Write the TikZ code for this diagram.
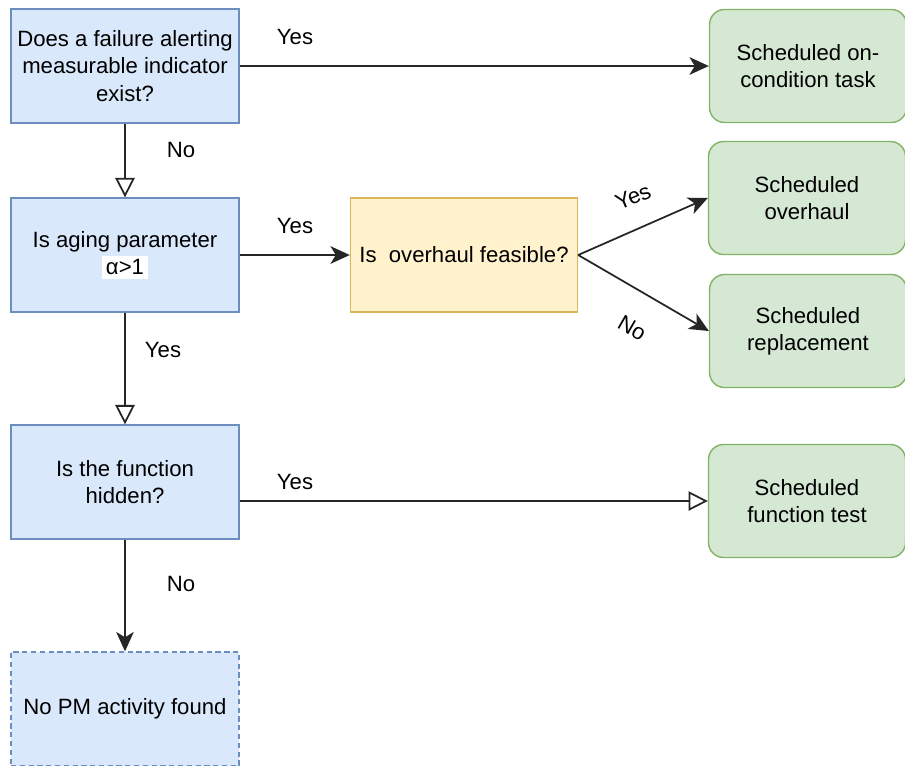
\documentclass[tikz,border=0pt]{standalone}
\usepackage{fontspec}
\setmainfont{Liberation Sans}
\usetikzlibrary{arrows.meta}

\definecolor{qFill}{HTML}{DAE8FC}
\definecolor{qLine}{HTML}{6C8EBF}
\definecolor{yFill}{HTML}{FFF2CC}
\definecolor{yLine}{HTML}{D6B656}
\definecolor{gFill}{HTML}{D5E8D4}
\definecolor{gLine}{HTML}{82B366}

\begin{document}
\begin{tikzpicture}[x=0.02cm, y=-0.02cm, line width=1pt, draw=black!85,
    font=\fontsize{12.6}{15.5}\selectfont]
    \tikzstyle{question}=[draw=qLine, fill=qFill, line width=0.8pt, align=center, minimum width=4.56cm, minimum height=2.28cm, inner sep=0pt]
    \tikzstyle{nothing}=[question, dashed, dash pattern=on 3pt off 2pt]
    \tikzstyle{check}=[draw=yLine, fill=yFill, line width=0.8pt, align=center, minimum width=4.54cm, minimum height=2.28cm, inner sep=0pt]
    \tikzstyle{task}=[draw=gLine, fill=gFill, line width=0.8pt, rounded corners=0.3cm, align=center, minimum width=3.94cm, minimum height=2.26cm, inner sep=0pt]
    \tikzstyle{fwd}=[-{Stealth[length=11pt, width=10pt, inset=3pt]}]
    \tikzstyle{open}=[-{Triangle[open, length=11pt, width=11pt]}]
    \tikzstyle{lbl}=[inner sep=0pt]

    \useasboundingbox (0,0) rectangle (905,765);

    \node[question] (Q-1) at (125, 66)  {Does a failure alerting\\measurable indicator\\exist?};
    \node[question] (Q-2) at (125, 255) {Is aging parameter\\{\setlength{\fboxsep}{2pt}\colorbox{white}{α>1}}};
    \node[question] (Q-3) at (125, 482) {Is the function\\hidden?};
    \node[nothing]  (Q-4) at (125, 709) {No PM activity found};

    \node[check] (F-1) at (464, 255) {Is\ \ overhaul feasible?};

    \node[task] (T-1) at (808, 66)  {Scheduled on-\\condition task};
    \node[task] (T-2) at (807, 198) {Scheduled\\overhaul};
    \node[task] (T-3) at (808, 331) {Scheduled\\replacement};
    \node[task] (T-4) at (807, 501) {Scheduled\\function test};

    \draw[fwd]  (Q-1) -- (T-1);
    \draw[open] (Q-1) -- (Q-2);
    \draw[fwd]  (Q-2) -- (F-1);
    \draw[open] (Q-2) -- (Q-3);
    \draw[fwd]  (F-1.east) -- (T-2.west);
    \draw[fwd]  (F-1.east) -- (T-3.west);
    \draw[open] (Q-3.east |- T-4.west) -- (T-4.west);
    \draw[fwd]  (Q-3) -- (Q-4);

    % branch labels
    \node[lbl] (y-1) at (295, 37)  {Yes};
    \node[lbl] (n-1) at (181, 150) {No};
    \node[lbl] (y-2) at (295, 226) {Yes};
    \node[lbl] (y-3) at (163, 350) {Yes};
    \node[lbl, rotate=23]  (y-4) at (633, 197) {Yes};
    \node[lbl, rotate=-30] (n-2) at (632, 328) {No};
    \node[lbl] (y-5) at (295, 482) {Yes};
    \node[lbl] (n-3) at (181, 584) {No};
\end{tikzpicture}
\end{document}
